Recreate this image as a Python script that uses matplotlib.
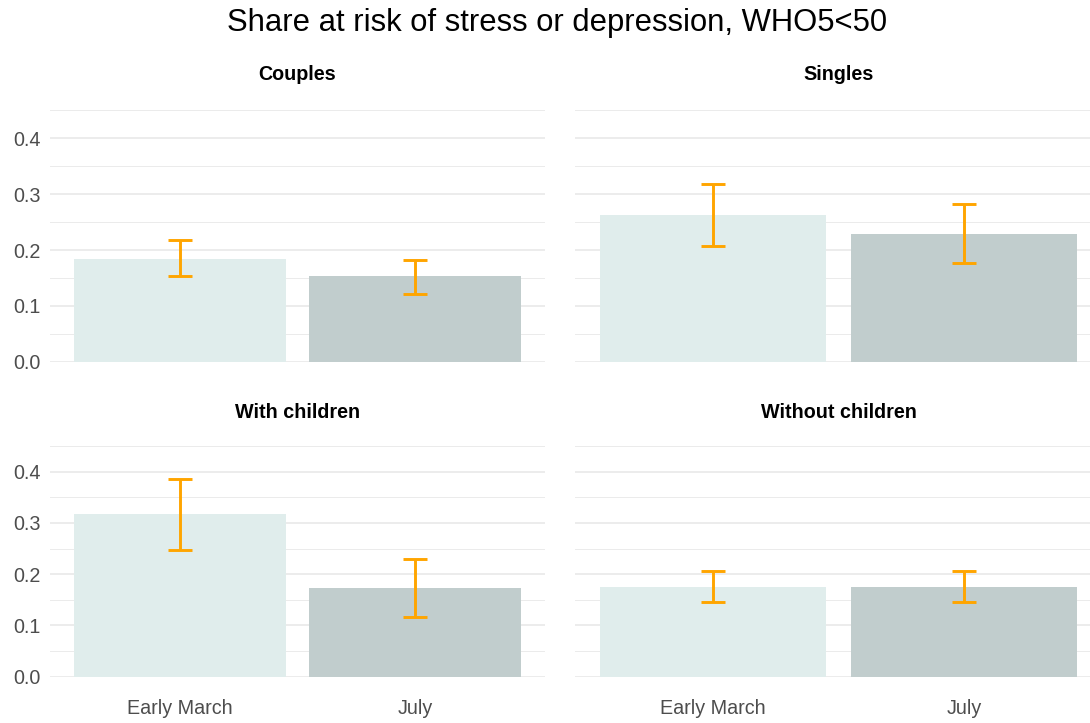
import matplotlib
matplotlib.use('Agg')
import matplotlib.pyplot as plt
import numpy as np

plt.rcParams['font.family'] = ['Liberation Sans', 'DejaVu Sans']

# values
panels = ['Couples', 'Singles', 'With children', 'Without children']
periods = ['Early March', 'July']
share_march = [0.184, 0.263, 0.317, 0.175]
share_july = [0.153, 0.229, 0.173, 0.175]
low_march = [0.153, 0.208, 0.247, 0.146]
high_march = [0.218, 0.319, 0.386, 0.206]
low_july = [0.122, 0.176, 0.117, 0.146]
high_july = [0.183, 0.282, 0.229, 0.206]

bar_colors = ['#E0EDEC', '#C1CDCD']
err_color = '#FFA500'
grid_color = '#EBEBEB'

W, H = 1090, 723
fig = plt.figure(figsize=(W / 100, H / 100), dpi=100)

# panel boxes in pixels: left, bottom (0.0 line from top), width, height
boxes = [(50, 361.7, 495, 254.1), (575, 361.7, 527, 254.1),
         (50, 676.7, 495, 233.2), (575, 676.7, 527, 233.2)]
strip_y = [75, 75, 412, 412]

x = np.arange(1, len(periods) + 1)
for i, name in enumerate(panels):
    l, b, w, h = boxes[i]
    ax = fig.add_axes([l / W, (H - b) / H, w / W, h / H])
    vals = [share_march[i], share_july[i]]
    lows = [low_march[i], low_july[i]]
    highs = [high_march[i], high_july[i]]
    yerr = [[v - lo for v, lo in zip(vals, lows)], [hi - v for v, hi in zip(vals, highs)]]

    ax.bar(x, vals, width=0.9, color=bar_colors, zorder=2)
    ax.errorbar(x, vals, yerr=yerr, fmt='none', ecolor=err_color, elinewidth=2.1,
                capsize=8.5, capthick=2.1, zorder=3)

    ax.set_xlim(0.45, 2.55)
    ax.set_ylim(0, 0.455)
    ax.set_yticks([0.0, 0.1, 0.2, 0.3, 0.4])
    ax.set_yticks([0.05, 0.15, 0.25, 0.35, 0.45], minor=True)
    ax.grid(True, axis='y', which='major', color=grid_color, lw=1.3, zorder=0)
    ax.grid(True, axis='y', which='minor', color=grid_color, lw=0.7, zorder=0)
    ax.set_axisbelow(True)
    for s in ax.spines.values():
        s.set_visible(False)
    ax.tick_params(axis='both', which='both', length=0, labelsize=14.2, colors='#4D4D4D')
    ax.tick_params(axis='y', pad=7)
    ax.tick_params(axis='x', pad=16)

    if i % 2 == 0:
        ax.set_yticklabels(['0.0', '0.1', '0.2', '0.3', '0.4'])
    else:
        ax.set_yticklabels([])
    ax.set_xticks(x)
    if i >= 2:
        ax.set_xticklabels(periods)
    else:
        ax.set_xticklabels([])

    fig.text((l + w / 2) / W, 1 - strip_y[i] / H, name, ha='center', va='center',
             fontsize=14.2, fontweight='bold', color='black')

fig.text(557 / W, 1 - 23 / H, 'Share at risk of stress or depression, WHO5<50',
         ha='center', va='center', fontsize=22.3, color='black')

fig.savefig('out.png', dpi=100)
